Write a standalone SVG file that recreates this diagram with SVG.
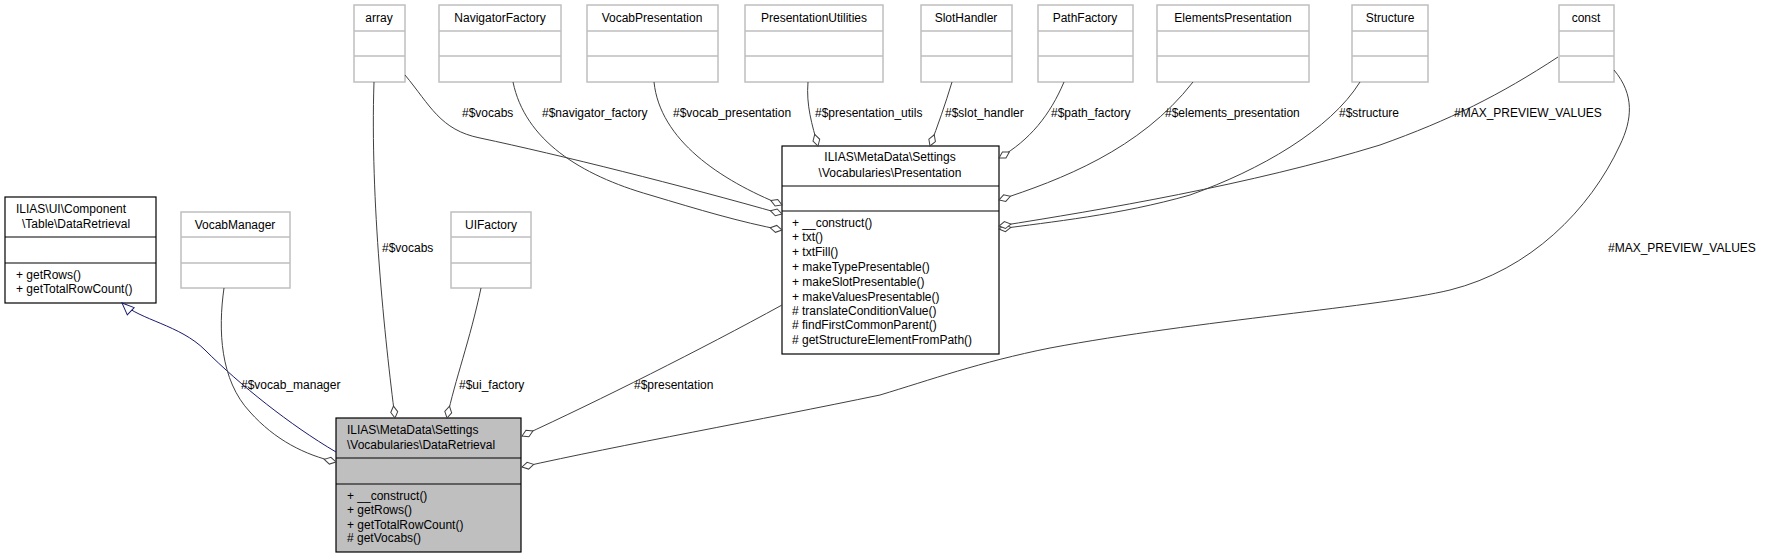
<svg xmlns="http://www.w3.org/2000/svg" width="1775" height="559" viewBox="0 0 1775 559">
<style>
text{font-family:"Liberation Sans",Arial,sans-serif;font-size:12px;fill:#000}
.g{fill:#fff;stroke:#bfbfbf;stroke-width:1.5}
.b{fill:#fff;stroke:#000;stroke-width:1.2}
.m{fill:#bfbfbf;stroke:#000;stroke-width:1.2}
.e{fill:none;stroke:#404040;stroke-width:1}
.i{fill:none;stroke:#191970;stroke-width:1}
.c{text-anchor:middle}
</style>
<defs>
<marker id="d" markerUnits="userSpaceOnUse" markerWidth="14" markerHeight="9" refX="13" refY="4.5" orient="auto"><path d="M1,4.5 L7,1 L13,4.5 L7,8 Z" fill="#fff" stroke="#404040"/></marker>
<marker id="t" markerUnits="userSpaceOnUse" markerWidth="14" markerHeight="12" refX="13" refY="6" orient="auto"><path d="M1,1 L13,6 L1,11 Z" fill="#fff" stroke="#191970"/></marker>
</defs>
<g id="n-array"><rect class="g" x="354" y="5" width="51" height="77"/><path class="g" d="M354,31H405M354,56H405"/><text class="c" x="379" y="22">array</text></g>
<g id="n-nav"><rect class="g" x="439" y="5" width="122" height="77"/><path class="g" d="M439,31H561M439,56H561"/><text class="c" x="500" y="22">NavigatorFactory</text></g>
<g id="n-vp"><rect class="g" x="587" y="5" width="131" height="77"/><path class="g" d="M587,31H718M587,56H718"/><text class="c" x="652" y="22">VocabPresentation</text></g>
<g id="n-pu"><rect class="g" x="745" y="5" width="138" height="77"/><path class="g" d="M745,31H883M745,56H883"/><text class="c" x="814" y="22">PresentationUtilities</text></g>
<g id="n-sh"><rect class="g" x="921" y="5" width="91" height="77"/><path class="g" d="M921,31H1012M921,56H1012"/><text class="c" x="966" y="22">SlotHandler</text></g>
<g id="n-pf"><rect class="g" x="1038" y="5" width="95" height="77"/><path class="g" d="M1038,31H1133M1038,56H1133"/><text class="c" x="1085" y="22">PathFactory</text></g>
<g id="n-ep"><rect class="g" x="1157" y="5" width="152" height="77"/><path class="g" d="M1157,31H1309M1157,56H1309"/><text class="c" x="1233" y="22">ElementsPresentation</text></g>
<g id="n-st"><rect class="g" x="1352" y="5" width="76" height="77"/><path class="g" d="M1352,31H1428M1352,56H1428"/><text class="c" x="1390" y="22">Structure</text></g>
<g id="n-const"><rect class="g" x="1559" y="5" width="55" height="77"/><path class="g" d="M1559,31H1614M1559,56H1614"/><text class="c" x="1586" y="22">const</text></g>
<g id="n-vm"><rect class="g" x="181" y="212" width="109" height="76"/><path class="g" d="M181,237H290M181,263H290"/><text class="c" x="235" y="229">VocabManager</text></g>
<g id="n-ui"><rect class="g" x="451" y="212" width="80" height="76"/><path class="g" d="M451,237H531M451,263H531"/><text class="c" x="491" y="229">UIFactory</text></g>
<g id="n-tdr"><rect class="b" x="5" y="197" width="151" height="106"/><path class="b" d="M5,237H156M5,263H156"/><text x="16" y="213">ILIAS\UI\Component</text><text x="22" y="228">\Table\DataRetrieval</text><text x="16" y="279">+ getRows()</text><text x="16" y="293">+ getTotalRowCount()</text></g>
<g id="n-pres"><rect class="b" x="782" y="146" width="217" height="208"/><path class="b" d="M782,186H999M782,211H999"/><text class="c" x="890" y="161">ILIAS\MetaData\Settings</text><text class="c" x="890" y="177">\Vocabularies\Presentation</text>
<text x="792" y="227">+ __construct()</text><text x="792" y="241">+ txt()</text><text x="792" y="256">+ txtFill()</text><text x="792" y="271">+ makeTypePresentable()</text><text x="792" y="286">+ makeSlotPresentable()</text><text x="792" y="301">+ makeValuesPresentable()</text><text x="792" y="315"># translateConditionValue()</text><text x="792" y="329"># findFirstCommonParent()</text><text x="792" y="344"># getStructureElementFromPath()</text></g>
<g id="n-dr"><rect class="m" x="336" y="418" width="185" height="134"/><path class="m" d="M336,458H521M336,484H521"/><text x="347" y="434">ILIAS\MetaData\Settings</text><text x="347" y="449">\Vocabularies\DataRetrieval</text>
<text x="347" y="500">+ __construct()</text><text x="347" y="514">+ getRows()</text><text x="347" y="529">+ getTotalRowCount()</text><text x="347" y="542"># getVocabs()</text></g>
<g id="edges">
<path class="i" d="M336,452 C290,425 240,385 205,350 C180,325 140,320 122,303" marker-end="url(#t)"/>
<path class="e" d="M224,288 C218,330 220,380 250,412 C275,440 305,455 336,462" marker-end="url(#d)"/>
<path class="e" d="M374,82 C370,200 385,340 395,418" marker-end="url(#d)"/>
<path class="e" d="M481,288 C470,340 455,380 447,418" marker-end="url(#d)"/>
<path class="e" d="M782,305 C700,350 600,400 522,436" marker-end="url(#d)"/>
<path class="e" d="M1614,70 C1635,95 1632,120 1620,145 C1590,210 1530,270 1450,290 C1380,307 1200,320 1050,348 C980,362 930,380 880,395 C760,420 620,445 522,467" marker-end="url(#d)"/>
<path class="e" d="M405,75 C430,105 440,130 480,138 C560,155 680,185 782,214" marker-end="url(#d)"/>
<path class="e" d="M513,82 C525,140 580,175 650,195 C700,210 740,222 782,230" marker-end="url(#d)"/>
<path class="e" d="M654,82 C660,140 720,180 782,205" marker-end="url(#d)"/>
<path class="e" d="M808,82 C806,105 812,125 818,146" marker-end="url(#d)"/>
<path class="e" d="M952,82 C945,105 938,125 930,146" marker-end="url(#d)"/>
<path class="e" d="M1064,82 C1050,115 1030,140 999,158" marker-end="url(#d)"/>
<path class="e" d="M1193,82 C1140,150 1060,180 999,200" marker-end="url(#d)"/>
<path class="e" d="M1360,82 C1330,130 1260,170 1190,195 C1120,215 1050,222 999,229" marker-end="url(#d)"/>
<path class="e" d="M1558,57 C1500,95 1450,120 1380,145 C1250,185 1100,210 999,226" marker-end="url(#d)"/>
<text x="382" y="252">#$vocabs</text>
<text x="462" y="117">#$vocabs</text>
<text x="542" y="117">#$navigator_factory</text>
<text x="673" y="117">#$vocab_presentation</text>
<text x="815" y="117">#$presentation_utils</text>
<text x="945" y="117">#$slot_handler</text>
<text x="1051" y="117">#$path_factory</text>
<text x="1165" y="117">#$elements_presentation</text>
<text x="1339" y="117">#$structure</text>
<text x="1454" y="117">#MAX_PREVIEW_VALUES</text>
<text x="1608" y="252">#MAX_PREVIEW_VALUES</text>
<text x="241" y="389">#$vocab_manager</text>
<text x="459" y="389">#$ui_factory</text>
<text x="634" y="389">#$presentation</text>
</g>
</svg>
